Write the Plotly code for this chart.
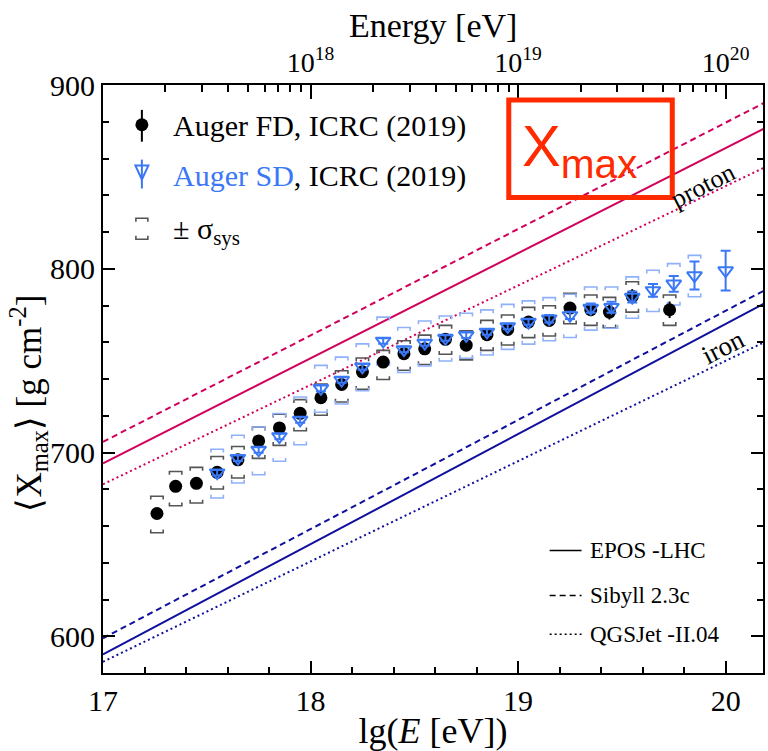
import numpy as np
import plotly.graph_objects as go

# ---------------- data ----------------
fd_lg = [17.26, 17.35, 17.45, 17.55, 17.65, 17.75, 17.85, 17.95, 18.05, 18.15,
         18.25, 18.35, 18.45, 18.55, 18.65, 18.75, 18.85, 18.95, 19.05, 19.15,
         19.25, 19.35, 19.44, 19.55, 19.73]
fd_xmax = [666.8, 681.6, 683.2, 689.2, 696.0, 706.3, 713.4, 721.3, 729.8, 737.0,
           743.9, 749.2, 753.8, 756.4, 761.6, 758.4, 764.1, 767.0, 771.0, 771.9,
           778.6, 777.7, 776.4, 784.9, 777.7]
fd_stat = [2.0, 1.5, 1.5, 1.5, 1.5, 1.5, 1.5, 1.5, 1.5, 1.5,
           1.5, 1.5, 1.5, 1.5, 1.5, 2.0, 2.0, 2.0, 2.5, 2.5,
           3.0, 3.5, 4.0, 4.0, 4.5]
fd_sys_up = [9.4, 8.1, 8.7, 8.6, 7.3, 7.5, 7.5, 7.5, 7.5, 7.5,
             7.5, 6.4, 7.0, 7.5, 7.6, 7.8, 7.8, 7.8, 8.0, 8.0,
             8.0, 8.0, 8.0, 8.0, 8.0]
fd_sys_dn = [10.5, 10.6, 10.7, 9.1, 9.9, 9.5, 9.5, 9.5, 9.5, 9.5,
             9.5, 9.5, 9.0, 8.5, 8.1, 8.0, 8.5, 8.5, 8.5, 8.5,
             8.5, 8.5, 8.5, 8.5, 8.5]

sd_lg = [17.55, 17.65, 17.75, 17.85, 17.95, 18.05, 18.15, 18.25, 18.35, 18.45,
         18.55, 18.65, 18.75, 18.85, 18.95, 19.05, 19.15, 19.25, 19.35, 19.45,
         19.55, 19.65, 19.75, 19.85, 20.0]
sd_xmax = [689.0, 696.9, 701.4, 708.7, 717.7, 734.9, 739.4, 746.6, 760.7, 756.0,
           759.6, 762.3, 763.8, 765.6, 768.6, 771.0, 772.8, 774.6, 778.6, 779.1,
           784.6, 788.2, 791.8, 796.3, 799.0]
sd_stat = [1.5, 1.5, 1.5, 1.5, 1.5, 1.5, 1.5, 1.5, 1.5, 1.5,
           1.5, 1.5, 1.5, 1.5, 1.5, 1.5, 2.0, 2.0, 2.5, 3.0,
           3.0, 3.5, 4.3, 7.6, 10.8]
sd_sys_up = [12.8, 12.5, 12.5, 12.5, 12.5, 12.5, 12.5, 12.5, 13.0, 12.0,
             12.0, 12.0, 12.0, 12.0, 12.0, 11.5, 11.5, 11.5, 11.5, 11.0,
             11.0, 11.0, 11.0, 11.0, None]
sd_sys_dn = [13.8, 13.5, 13.5, 13.5, 13.5, 13.0, 13.0, 13.0, 13.0, 12.5,
             12.5, 12.5, 12.5, 12.5, 12.5, 12.0, 12.0, 12.0, 12.0, 11.5,
             11.5, 11.5, 11.5, 11.5, None]

# model predictions (straight lines between lg E = 17 and 20.2)
model_lg = [17.0, 20.2]
epos_p = [694.1, 877.1]
sibyll_p = [705.8, 891.1]
qgs_p = [682.7, 855.8]
epos_fe = [590.2, 781.9]
sibyll_fe = [598.9, 789.0]
qgs_fe = [586.1, 760.8]

top_major = [18, 19, 20]
top_labels = ["10<sup>18</sup>", "10<sup>19</sup>", "10<sup>20</sup>"]

# ---------------- style ----------------
XR = [17.0, 20.18]
YR = [580, 900]
L, R, T, B = 103, 3, 85, 75
WIDTH, HEIGHT = 768, 751
PW, PH = WIDTH - L - R, HEIGHT - T - B
SERIF = "Liberation Serif"
PROTON = "#d1005a"
IRON = "#10109e"
SDBLUE = "#3a78f5"
SDSYS = "#8fb0fa"
FDSYS = "#555555"
DASH = "6px,4px"
DOT = "2px,3px"


def P(px, py):
    return (px - L) / PW, (T + PH - py) / PH


def brackets(xs, ys, up, dn, w=0.03, h=1.8):
    bx, by = [], []
    for x, y, u, d in zip(xs, ys, up, dn):
        if u is None:
            continue
        t, b = y + u, y - d
        bx += [x - w, x - w, x + w, x + w, None, x - w, x - w, x + w, x + w, None]
        by += [t - h, t, t, t - h, None, b + h, b, b, b + h, None]
    return bx, by


fig = go.Figure()

models = [
    (epos_p, PROTON, "solid"), (sibyll_p, PROTON, DASH), (qgs_p, PROTON, DOT),
    (epos_fe, IRON, "solid"), (sibyll_fe, IRON, DASH), (qgs_fe, IRON, DOT),
]
for vals, col, dash in models:
    fig.add_trace(go.Scatter(x=model_lg, y=vals, mode="lines",
                             line=dict(color=col, width=2, dash=dash),
                             showlegend=False, hoverinfo="skip"))

bx, by = brackets(fd_lg, fd_xmax, fd_sys_up, fd_sys_dn)
fig.add_trace(go.Scatter(x=bx, y=by, mode="lines", line=dict(color=FDSYS, width=1.6),
                         showlegend=False, hoverinfo="skip"))
bx, by = brackets(sd_lg, sd_xmax, sd_sys_up, sd_sys_dn)
fig.add_trace(go.Scatter(x=bx, y=by, mode="lines", line=dict(color=SDSYS, width=1.6),
                         showlegend=False, hoverinfo="skip"))

fig.add_trace(go.Scatter(x=fd_lg, y=fd_xmax, mode="markers",
                         marker=dict(symbol="circle", size=13, color="black"),
                         error_y=dict(type="data", array=fd_stat, color="black",
                                      thickness=2, width=0),
                         showlegend=False))
fig.add_trace(go.Scatter(x=sd_lg, y=sd_xmax, mode="markers",
                         marker=dict(symbol="triangle-down-open", size=13, color=SDBLUE,
                                     line=dict(width=2, color=SDBLUE)),
                         error_y=dict(type="data", array=sd_stat, color=SDBLUE,
                                      thickness=2, width=5),
                         showlegend=False))

# invisible trace on top axis
fig.add_trace(go.Scatter(x=XR, y=YR, xaxis="x2", mode="markers",
                         marker=dict(opacity=0), showlegend=False, hoverinfo="skip"))

shapes = []
ann = []

# --- legend (top-left) ---
x0, y0 = P(142, 125)
r = 6.5 / PW, 6.5 / PH
shapes.append(dict(type="circle", xref="paper", yref="paper",
                   x0=x0 - r[0], x1=x0 + r[0], y0=y0 - r[1], y1=y0 + r[1],
                   fillcolor="black", line=dict(color="black", width=0)))
a, b1 = P(142, 110)
_, b2 = P(142, 142)
shapes.append(dict(type="line", xref="paper", yref="paper", x0=a, x1=a, y0=b1, y1=b2,
                   line=dict(color="black", width=2)))
# SD triangle
p1, p2, p3 = P(135.5, 166), P(148.5, 166), P(142, 180)
shapes.append(dict(type="path", xref="paper", yref="paper",
                   path=f"M{p1[0]},{p1[1]} L{p2[0]},{p2[1]} L{p3[0]},{p3[1]} Z",
                   line=dict(color=SDBLUE, width=2)))
a, b1 = P(142, 160)
_, b2 = P(142, 189)
shapes.append(dict(type="line", xref="paper", yref="paper", x0=a, x1=a, y0=b1, y1=b2,
                   line=dict(color=SDBLUE, width=2)))
# sys bracket symbol
for (ya, yb) in [(219, 222.5), (240, 236.5)]:
    q1, q2, q3, q4 = P(136, yb), P(136, ya), P(148, ya), P(148, yb)
    shapes.append(dict(type="path", xref="paper", yref="paper",
                       path=f"M{q1[0]},{q1[1]} L{q2[0]},{q2[1]} L{q3[0]},{q3[1]} L{q4[0]},{q4[1]}",
                       line=dict(color=FDSYS, width=1.6)))

leg_font = dict(family=SERIF, size=30, color="black")
for (py, txt) in [(126, "Auger FD, ICRC (2019)"),
                  (176, f"<span style='color:{SDBLUE}'>Auger SD</span>, ICRC (2019)"),
                  (232, "± σ<sub>sys</sub>")]:
    ax, ay = P(171, py)
    ann.append(dict(xref="paper", yref="paper", x=ax, y=ay, text=txt, showarrow=False,
                    xanchor="left", yanchor="middle", font=leg_font))

# --- model legend (bottom-right) ---
for (py, dash, txt) in [(553, "solid", "EPOS -LHC"), (598, DASH, "Sibyll 2.3c"),
                        (637, DOT, "QGSJet -II.04")]:
    l1, l2 = P(551, py), P(583, py)
    shapes.append(dict(type="line", xref="paper", yref="paper", x0=l1[0], x1=l2[0],
                       y0=l1[1], y1=l2[1], line=dict(color="black", width=1.5, dash=dash)))
    ax, ay = P(589, py)
    ann.append(dict(xref="paper", yref="paper", x=ax, y=ay, text=txt, showarrow=False,
                    xanchor="left", yanchor="middle",
                    font=dict(family=SERIF, size=23, color="black")))

# --- proton / iron labels ---
ax, ay = P(705, 186)
ann.append(dict(xref="paper", yref="paper", x=ax, y=ay, text="proton", showarrow=False,
                xanchor="center", yanchor="middle",
                textangle=-27, font=dict(family=SERIF, size=26, color="black")))
ax, ay = P(725, 348)
ann.append(dict(xref="paper", yref="paper", x=ax, y=ay, text="iron", showarrow=False,
                xanchor="center", yanchor="middle",
                textangle=-27, font=dict(family=SERIF, size=27, color="black")))

# --- top axis title ---
ax, ay = P(434, 25)
ann.append(dict(xref="paper", yref="paper", x=ax, y=ay, text="Energy [eV]", showarrow=False,
                xanchor="center", yanchor="middle",
                font=dict(family=SERIF, size=34, color="black")))

# --- y axis title ---
ax, ay = P(28, 405)
ann.append(dict(xref="paper", yref="paper", x=ax, y=ay,
                text="⟨X<sub>max</sub>⟩ [g cm<sup>-2</sup>]", showarrow=False,
                xanchor="center", yanchor="middle", textangle=-90,
                font=dict(family=SERIF, size=35, color="black")))

# --- red X_max box ---
RED = "#ff2a00"
c1, c2 = P(510, 100), P(674, 198)
shapes.append(dict(type="rect", xref="paper", yref="paper", x0=c1[0], x1=c2[0],
                   y0=c2[1], y1=c1[1], line=dict(color=RED, width=5)))
ax, ay = P(581, 150)
ann.append(dict(xref="paper", yref="paper", x=ax, y=ay, text="X<sub>max</sub>",
                showarrow=False, xanchor="center", yanchor="middle",
                font=dict(family="Liberation Sans", size=58, color=RED)))

minor_top = [n + np.log10(k) for n in (17, 18, 19) for k in range(2, 10)
             if n + np.log10(k) < XR[1]]

fig.update_layout(
    width=WIDTH, height=HEIGHT,
    margin=dict(l=L, r=R, t=T, b=B, pad=0),
    paper_bgcolor="white", plot_bgcolor="white",
    shapes=shapes, annotations=ann,
    font=dict(family=SERIF, color="black"),
    xaxis=dict(range=XR, showgrid=False, zeroline=False, showline=True,
               linecolor="black", linewidth=2, mirror=False,
               tickmode="array", tickvals=[17, 18, 19, 20], ticktext=["17", "18", "19", "20"],
               ticks="inside", ticklen=12, tickwidth=2, tickcolor="black",
               minor=dict(dtick=0.2, tick0=17, ticks="inside", ticklen=6, tickwidth=2,
                          tickcolor="black", showgrid=False),
               tickfont=dict(family=SERIF, size=30),
               title=dict(text="lg(<i>E</i> [eV])", font=dict(family=SERIF, size=36),
                          standoff=6)),
    xaxis2=dict(range=XR, overlaying="x", side="top", anchor="y",
                showgrid=False, zeroline=False, showline=True,
                linecolor="black", linewidth=2,
                tickmode="array", tickvals=top_major, ticktext=top_labels,
                ticks="inside", ticklen=14, tickwidth=2, tickcolor="black",
                minor=dict(tickmode="array", tickvals=minor_top, ticks="inside",
                           ticklen=7, tickwidth=2, tickcolor="black", showgrid=False),
                tickfont=dict(family=SERIF, size=28)),
    yaxis=dict(range=YR, showgrid=False, zeroline=False, showline=True,
               linecolor="black", linewidth=2, mirror="ticks",
               tickmode="array", tickvals=[600, 700, 800, 900],
               ticks="inside", ticklen=12, tickwidth=2, tickcolor="black",
               minor=dict(dtick=20, tick0=580, ticks="inside", ticklen=6, tickwidth=2,
                          tickcolor="black", showgrid=False),
               tickfont=dict(family=SERIF, size=30)),
)

fig.write_html("out.html")
